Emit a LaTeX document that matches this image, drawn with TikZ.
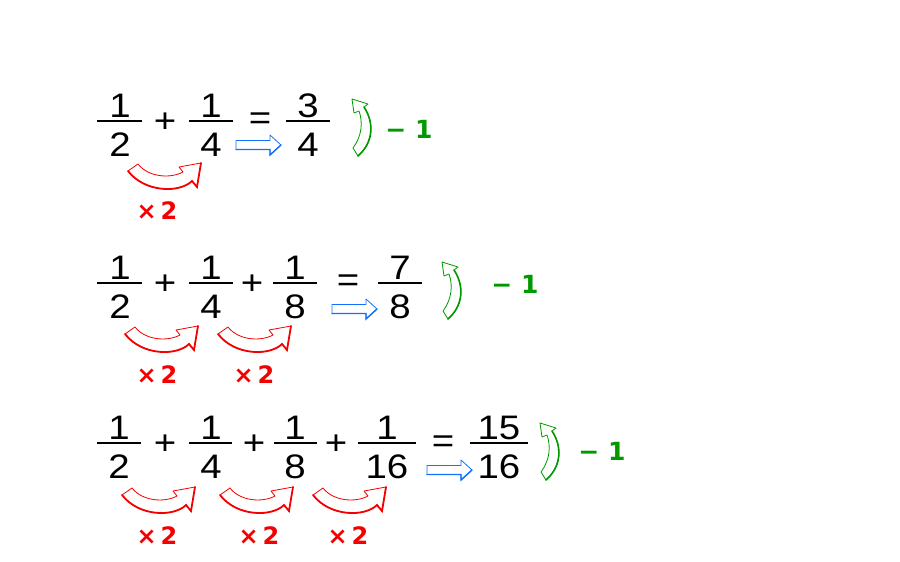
\documentclass[tikz,border=0pt]{standalone}
\usepackage{fontspec}
\setmainfont{Liberation Sans}[FakeStretch=1.13]
\newfontfamily\labelfont{DejaVu Sans}
\definecolor{red}{HTML}{F50000}
\definecolor{green}{HTML}{009A00}
\definecolor{blue}{HTML}{1070FF}
\usetikzlibrary{calc}
\tikzset{
  digit/.style={inner sep=0pt, font=\fontsize{34}{36}\selectfont},
  bar/.style={line width=1.5pt},
  times/.style={inner sep=0pt, text=red, font=\labelfont\bfseries\fontsize{24}{26}\selectfont},
  minus/.style={inner sep=0pt, text=green, font=\labelfont\bfseries\fontsize{25}{28}\selectfont},
  redarrow/.pic={
    \draw[red, line width=0.8pt, fill=white, line join=round] (10,1) .. controls (20,14) and (42,16) .. (55,9) -- (51,4) -- (73,0) -- (69,24) -- (64,18) .. controls (52,30) and (17,30) .. (0,8) -- cycle;
    \draw[red, line width=1.8pt, line cap=round] (73,0) -- (69,24) -- (64,18) .. controls (52,30) and (17,30) .. (0,8);
  },
  greenarrow/.pic={
    \draw[green, line width=0.8pt, fill=white, line join=round] (1,49) .. controls (10,37) and (11,23) .. (7,12) -- (2,14) -- (0,0) -- (16,5) -- (12,8) .. controls (22,23) and (22,43) .. (6,57) -- cycle;
    \draw[green, line width=1.6pt, line cap=round] (12,8) .. controls (22,23) and (22,43) .. (6,57);
  },
  bluearrow/.pic={
    \draw[blue, line width=0.8pt, fill=white, line join=round] (0,-4.5) -- (34,-4.5) -- (34,-10) -- (45,0) -- (34,10) -- (34,4.5) -- (0,4.5) -- cycle;
    \draw[blue, line width=1.4pt, line cap=round] (0,4.5) -- (34,4.5) -- (34,10) -- (45,0);
  }
}

\begin{document}
\begin{tikzpicture}[x=1pt, y=-1pt]

\useasboundingbox (0,0) rectangle (900,562);

% first row

\node[digit] (n1a) at (120,106) {1};
\node[digit] (d1a) at (120,145) {2};
\draw[bar] (97,121) -- (142,121);
\node[digit] (p1a) at (165,123) {+};
\node[digit] (n1b) at (211,106) {1};
\node[digit] (d1b) at (211,145) {4};
\draw[bar] (189,121) -- (233,121);
\node[digit] (e1) at (260,121) {=};
\node[digit] (n1r) at (308,106) {3};
\node[digit] (d1r) at (308,145) {4};
\draw[bar] (286,121) -- (330,121);

\pic at (128,163) {redarrow};
\node[times] (t1a) at (157,211) {×\,2};
\pic at (236,145) {bluearrow};
\pic at (352,99) {greenarrow};
\node[minus] (m1) at (409,129) {− 1};

% second row

\node[digit] (n2a) at (120,268) {1};
\node[digit] (d2a) at (120,307) {2};
\draw[bar] (97,283) -- (142,283);
\node[digit] (p2a) at (165,285) {+};
\node[digit] (n2b) at (211,268) {1};
\node[digit] (d2b) at (211,307) {4};
\draw[bar] (189,283) -- (233,283);
\node[digit] (p2b) at (252,285) {+};
\node[digit] (n2c) at (295,268) {1};
\node[digit] (d2c) at (295,307) {8};
\draw[bar] (273,283) -- (317,283);
\node[digit] (e2) at (348,283) {=};
\node[digit] (n2r) at (400,268) {7};
\node[digit] (d2r) at (400,307) {8};
\draw[bar] (378,283) -- (422,283);

\pic at (125,326) {redarrow};
\pic at (218,326) {redarrow};
\node[times] (t2a) at (157,375) {×\,2};
\node[times] (t2b) at (254,375) {×\,2};
\pic at (332,309) {bluearrow};
\pic at (442,262) {greenarrow};
\node[minus] (m2) at (515,284) {− 1};

% third row

\node[digit] (n3a) at (119,428) {1};
\node[digit] (d3a) at (119,467) {2};
\draw[bar] (97,443) -- (141,443);
\node[digit] (p3a) at (165,445) {+};
\node[digit] (n3b) at (211,428) {1};
\node[digit] (d3b) at (211,467) {4};
\draw[bar] (189,443) -- (232,443);
\node[digit] (p3b) at (254,445) {+};
\node[digit] (n3c) at (295,428) {1};
\node[digit] (d3c) at (295,467) {8};
\draw[bar] (274,443) -- (317,443);
\node[digit] (p3c) at (336,445) {+};
\node[digit] (n3d) at (387,428) {1};
\node[digit] (d3d) at (387,467) {16};
\draw[bar] (358,443) -- (416,443);
\node[digit] (e3) at (443,444) {=};
\node[digit] (n3r) at (499,428) {15};
\node[digit] (d3r) at (499,467) {16};
\draw[bar] (470,443) -- (528,443);

\pic at (122,487) {redarrow};
\pic at (220,487) {redarrow};
\pic at (313,487) {redarrow};
\node[times] (t3a) at (157,536) {×\,2};
\node[times] (t3b) at (259,536) {×\,2};
\node[times] (t3c) at (348,536) {×\,2};
\pic at (427,470) {bluearrow};
\pic at (540,423) {greenarrow};
\node[minus] (m3) at (602,451) {− 1};

\end{tikzpicture}
\end{document}
